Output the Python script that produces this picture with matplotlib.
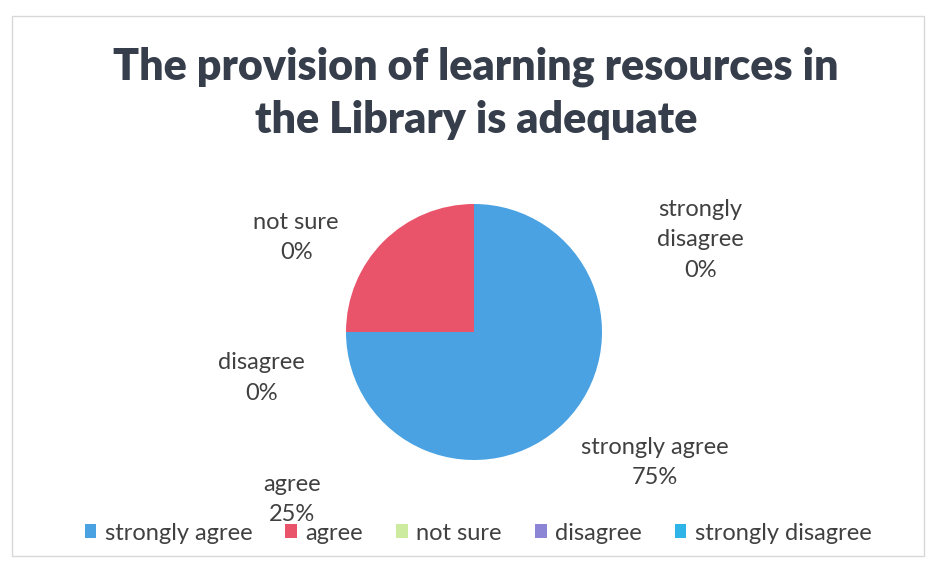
import matplotlib
matplotlib.use("Agg")
import matplotlib.pyplot as plt
from matplotlib.patches import Rectangle, Patch

# data
categories = ["strongly agree", "agree", "not sure", "disagree", "strongly disagree"]
shares = [75, 25, 0, 0, 0]
colors = ["#4AA2E2", "#E9546B", "#CDEB9E", "#8C85D6", "#2FB4E8"]
title = "The provision of learning resources in\nthe Library is adequate"

# label anchors, in pie-radius units from the centre
label_pos = [(1.41, -1.02), (-1.42, -1.31), (-1.39, 0.74), (-1.66, -0.36), (1.77, 0.72)]
label_text = ["strongly agree", "agree", "not sure", "disagree", "strongly\ndisagree"]

TXT = "#404040"
plt.rcParams["font.family"] = ["Lato", "DejaVu Sans"]

W, H = 934, 564
fig = plt.figure(figsize=(W / 100, H / 100), dpi=100)
fig.patch.set_facecolor("white")

# faint chart frame
fig.add_artist(Rectangle((12 / W, 8 / H), 912 / W, (H - 24) / H,
                         transform=fig.transFigure, fill=False,
                         edgecolor="#D8D8D8", linewidth=1.0))

fig.text(476 / W, 1 - 93 / H, title, ha="center", va="center",
         fontsize=31, fontweight="heavy", color="#363D4B", linespacing=1.38)

cx, cy, r = 474, 332, 128
ax = fig.add_axes([(cx - r) / W, (H - cy - r) / H, 2 * r / W, 2 * r / H])
ax.pie(shares, colors=colors, startangle=90, counterclock=False,
       radius=1, wedgeprops={"linewidth": 0})
ax.set_xlim(-1, 1)
ax.set_ylim(-1, 1)
ax.axis("off")

for (lx, ly), name, v in zip(label_pos, label_text, shares):
    ax.text(lx, ly, f"{name}\n{v}%", ha="center", va="center",
            fontsize=17, color=TXT, linespacing=1.55, clip_on=False)

handles = [Patch(facecolor=c, edgecolor="none") for c in colors]
fig.legend(handles, categories, loc="center", bbox_to_anchor=(478 / W, 1 - 533 / H),
           ncol=5, frameon=False, fontsize=17, labelcolor=TXT,
           handlelength=0.5, handleheight=0.5, handletextpad=0.35,
           columnspacing=1.4)

fig.savefig("out.png", dpi=100, facecolor="white")
